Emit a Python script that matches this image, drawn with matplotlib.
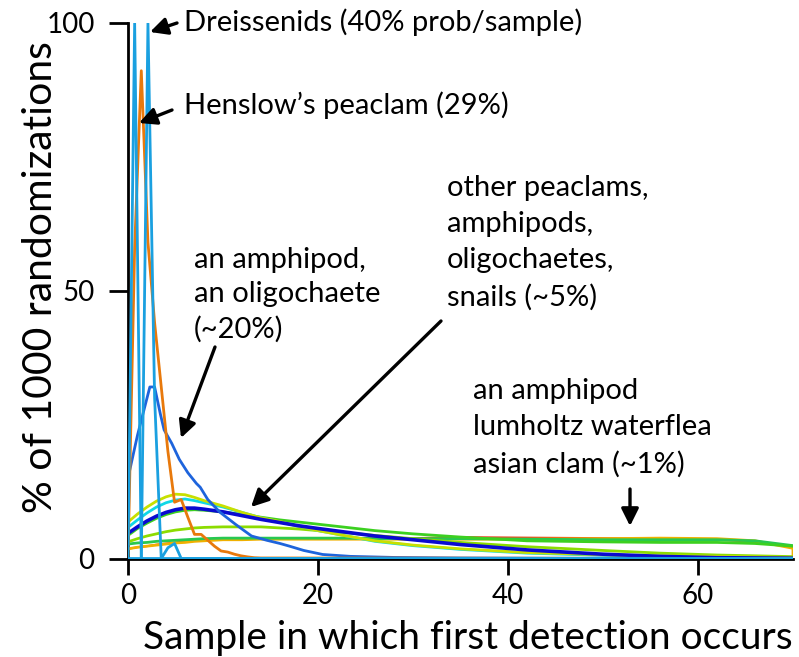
import matplotlib
matplotlib.use("Agg")
import matplotlib.pyplot as plt

plt.rcParams['font.family'] = ['Lato', 'DejaVu Sans']

# ---- data ----
dreis_a_x = [0, 0.7, 1.4, 70]
dreis_a_y = [0, 100, 0, 0]
dreis_b_x = [0, 1.4, 2.1, 2.8, 3.5, 4.2, 4.9, 5.6, 70]
dreis_b_y = [0, 0, 100, 30, 0, 2.0, 2.8, 0, 0]

henslow_x = [0, 0.7, 1.4, 2.1, 2.8, 3.5, 4.2, 4.9, 5.6, 6.3, 7.0, 7.7, 8.4,
             9.1, 9.8, 10.5, 11.2, 11.9, 12.6, 13.3, 14.0, 70]
henslow_y = [0, 58, 91, 59, 44, 32, 20, 10.5, 11, 7.7, 4.5, 4.5, 3.4,
             2.3, 1.4, 1.2, 0.8, 0.5, 0.3, 0.15, 0.1, 0]

amph20_x = [0, 1.0, 2.3, 2.8, 3.4, 3.8, 4.6, 5.4, 6.3, 7.2, 7.6, 8.4, 9.7,
            11.3, 13.0, 14.6, 16.0, 17.0, 18.5, 20.5, 23.4, 28.0, 35, 45, 70]
amph20_y = [15, 23, 32, 32, 27, 24, 21.5, 18.5, 16, 14, 13.3, 11, 8.6,
            6.4, 4.2, 3.4, 2.8, 2.3, 1.5, 0.75, 0.4, 0.2, 0.1, 0.05, 0]

smooth_x = [0, 1, 2, 3, 4, 5, 6, 7, 8, 10, 12, 14, 16, 18, 20, 23, 26, 30,
            35, 42, 50, 56, 62, 66, 70]
yellowgreen_y = [6.8, 8.3, 9.6, 10.7, 11.5, 12.0, 11.9, 11.4, 10.8, 9.8, 8.6,
                 7.6, 6.9, 6.0, 5.2, 4.2, 3.3, 2.5, 1.8, 1.1, 0.7, 0.5, 0.4, 0.3, 0.2]
cyan_y = [5.8, 7.2, 8.5, 9.6, 10.4, 10.9, 11.1, 10.8, 10.4, 9.6, 8.6,
          7.6, 6.8, 6.0, 5.2, 4.2, 3.2, 2.4, 1.7, 1.0, 0.6, 0.4, 0.3, 0.2, 0.15]
navy_y = [4.7, 5.9, 7.0, 7.9, 8.6, 9.1, 9.4, 9.4, 9.2, 8.7, 8.0,
          7.3, 6.7, 6.1, 5.6, 4.9, 4.2, 3.5, 2.6, 1.6, 0.8, 0.4, 0.15, 0.1, 0.05]
green_y = [4.3, 5.6, 6.6, 7.5, 8.2, 8.7, 9.0, 9.1, 9.0, 8.7, 8.2,
           7.7, 7.2, 6.8, 6.4, 5.8, 5.2, 4.6, 4.0, 3.3, 3.1, 3.0, 3.0, 2.8, 2.3]
lime_y = [3.1, 3.7, 4.2, 4.6, 5.0, 5.3, 5.5, 5.7, 5.8, 5.9, 5.9,
          5.9, 5.7, 5.5, 5.2, 4.8, 4.3, 3.7, 3.0, 2.2, 1.5, 1.0, 0.65, 0.5, 0.35]
green2_y = [2.7, 2.9, 3.0, 3.2, 3.3, 3.4, 3.5, 3.6, 3.7, 3.8, 3.8,
            3.8, 3.8, 3.8, 3.8, 3.8, 3.7, 3.7, 3.7, 3.6, 3.5, 3.5, 3.5, 3.3, 2.4]
red_y = [1.8, 2.1, 2.3, 2.6, 2.8, 3.0, 3.2, 3.3, 3.4, 3.6, 3.7,
         3.7, 3.7, 3.8, 3.8, 3.8, 3.8, 3.8, 4.0, 3.9, 3.8, 3.7, 3.5, 3.1, 2.1]
gold_x = smooth_x + [70]
gold_y = [1.8, 2.1, 2.3, 2.5, 2.7, 2.9, 3.0, 3.2, 3.3, 3.5, 3.5,
          3.6, 3.6, 3.6, 3.6, 3.6, 3.6, 3.6, 3.6, 3.6, 3.7, 3.8, 3.7, 3.3, 1.9, 0.3]

x_ticks = [0, 20, 40, 60]
y_ticks = [0, 50, 100]

# ---- figure ----
fig = plt.figure(figsize=(7.99, 6.57), dpi=100)
ax = fig.add_axes([128/799, 1-558.5/657, (793-128)/799, (558.5-22.5)/657])

lw = 2.0
ax.plot(smooth_x, red_y, color='#e8401e', lw=1.4)
ax.plot(gold_x, gold_y, color='#f0b000', lw=lw)
ax.plot(smooth_x, green2_y, color='#28c850', lw=lw)
ax.plot(smooth_x, lime_y, color='#8cdc00', lw=lw)
ax.plot(smooth_x, green_y, color='#3cd020', lw=lw)
ax.plot(smooth_x, cyan_y, color='#10d8e6', lw=lw)
ax.plot(smooth_x, yellowgreen_y, color='#c8e000', lw=lw)
ax.plot(smooth_x, navy_y, color='#0a0ad0', lw=2.6)
ax.plot(amph20_x, amph20_y, color='#1e64dc', lw=lw)
ax.plot(henslow_x, henslow_y, color='#e8790c', lw=lw)
ax.plot(dreis_a_x, dreis_a_y, color='#1aa0e0', lw=lw)
ax.plot(dreis_b_x, dreis_b_y, color='#1aa0e0', lw=lw)

ax.set_xlim(0, 70)
ax.set_ylim(0, 100)
ax.set_xticks(x_ticks)
ax.set_yticks(y_ticks)
for s in ['top', 'right']:
    ax.spines[s].set_visible(False)
for s in ['left', 'bottom']:
    ax.spines[s].set_linewidth(2.0)
    ax.spines[s].set_zorder(0.5)
ax.tick_params(axis='x', direction='out', length=11.5, width=2.0,
               labelsize=20, pad=6)
ax.tick_params(axis='y', direction='out', length=14, width=2.0,
               labelsize=20, pad=10)

ax.set_xlabel('Sample in which first detection occurs', fontsize=28)
ax.set_ylabel('% of 1000 randomizations', fontsize=29.5)
ax.xaxis.set_label_coords(1.0, -(638 - 558.5) / 536, transform=ax.transAxes)
ax.xaxis.label.set_horizontalalignment('right')
ax.xaxis.label.set_verticalalignment('center')
ax.yaxis.set_label_coords(-(128 - 40) / 665, (558.5 - 277) / 536, transform=ax.transAxes)
ax.yaxis.label.set_verticalalignment('center')

fs = 21
arrow = dict(arrowstyle='-|>', lw=2.4, color='black', mutation_scale=26,
             shrinkA=0, shrinkB=0)

def px(x, y):
    # convert reference pixel position to figure fraction
    return (x/799, 1 - y/657)

def arr(tail, tip):
    ax.annotate('', xy=px(*tip), xycoords='figure fraction',
                xytext=px(*tail), textcoords='figure fraction', arrowprops=arrow)

def txt(pos, s, ls=1.2):
    fig.text(*px(*pos), s, fontsize=fs, ha='left', va='center', linespacing=ls)

txt((184, 22), 'Dreissenids (40% prob/sample)')
arr((177, 23), (150, 32))
txt((184, 105), 'Henslow\u2019s peaclam (29%)')
arr((172, 110), (139, 123))
txt((194, 295), 'an amphipod,\nan oligochaete\n(~20%)', 1.4)
arr((215, 347), (181, 438))
txt((447, 243), 'other peaclams,\namphipods,\noligochaetes,\nsnails (~5%)', 1.48)
arr((441, 321), (251, 507))
txt((473, 428), 'an amphipod\nlumholtz waterflea\nasian clam (~1%)', 1.48)
arr((630, 489), (630, 526))

fig.savefig('out.png', dpi=100)
